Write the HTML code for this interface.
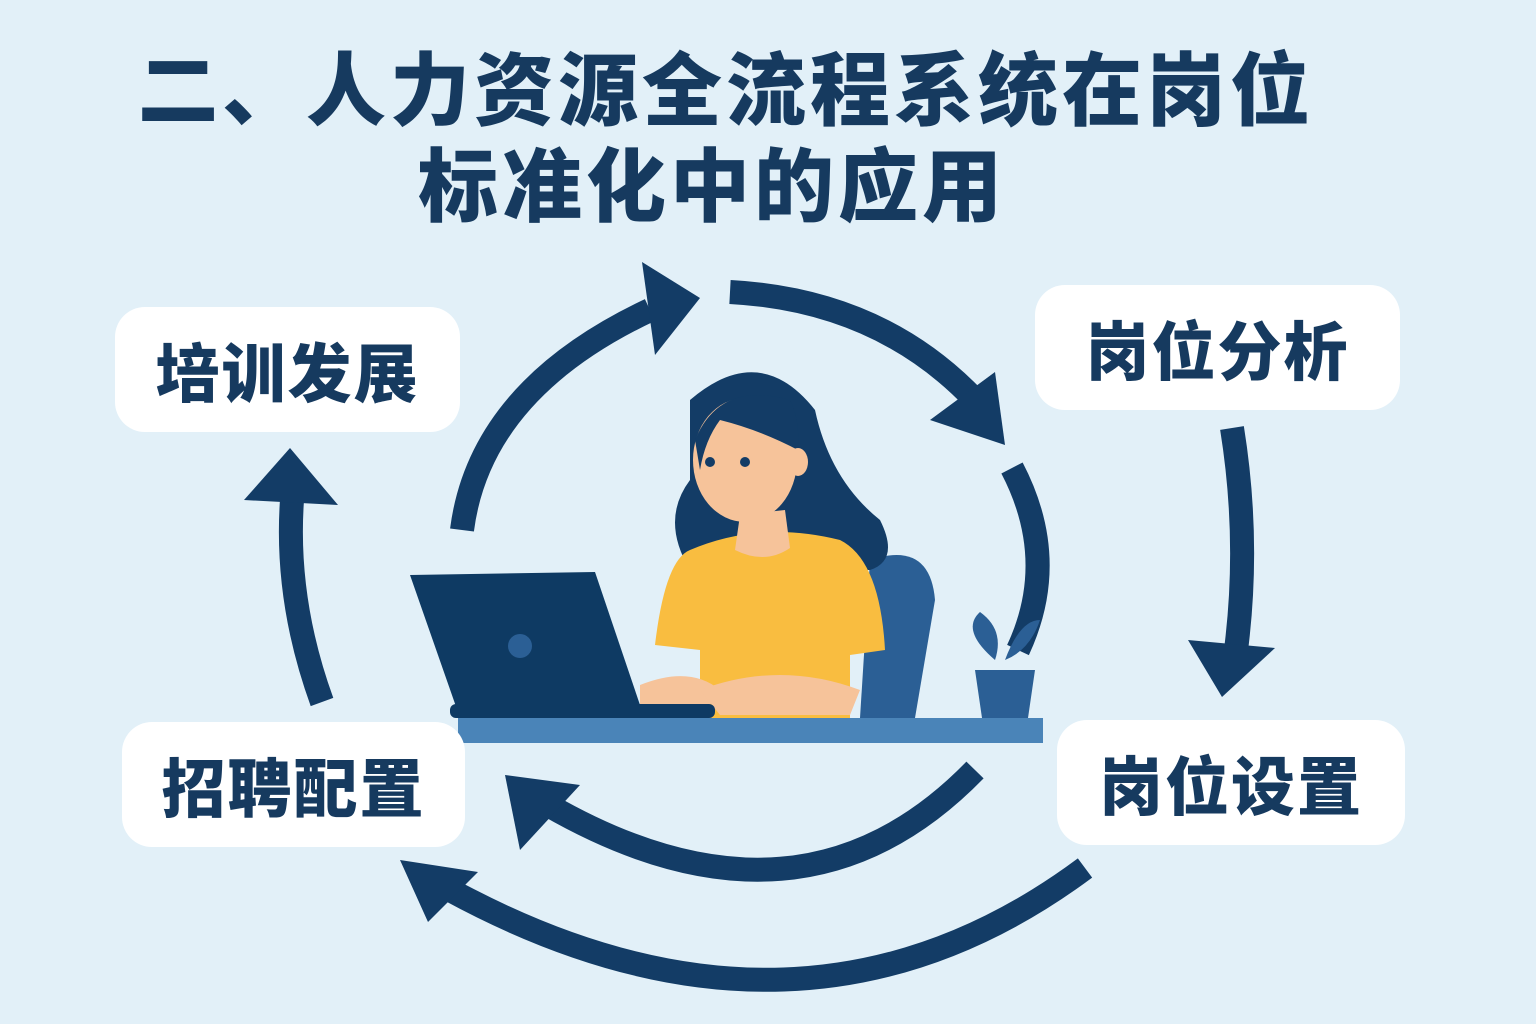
<!DOCTYPE html>
<html><head><meta charset="utf-8"><style>
html,body{margin:0;padding:0}
body{width:1536px;height:1024px;background:#e2f0f8;position:relative;overflow:hidden;font-family:"Liberation Sans","Noto Sans CJK SC",sans-serif}
.t{position:absolute;color:#163a5f;font-weight:900;font-size:80px;letter-spacing:4px;white-space:nowrap;line-height:1}
.box{position:absolute;background:#fff;border-radius:30px;display:flex;align-items:center;justify-content:center;color:#163a5f;font-weight:900;font-size:64px;letter-spacing:2px}
svg{position:absolute;left:0;top:0}
</style></head><body>
<svg width="1536" height="1024" viewBox="0 0 1536 1024">
<g fill="none" stroke="#133c66" stroke-width="24">
<path d="M462 530 Q480 390 650 310"/>
<path d="M730 292 Q880 300 975 400"/>
<path d="M1012 468 Q1060 560 1018 650"/>
<path d="M1232 428 Q1250 540 1236 650"/>
<path d="M322 702 Q285 600 292 500"/>
<path d="M975 770 Q800 950 548 805"/>
<path d="M1085 868 Q800 1080 450 890"/>
</g>
<g fill="#133c66">
<polygon points="700,298 642,262 655,355"/>
<polygon points="1005,445 930,420 995,372"/>
<polygon points="1222,697 1188,640 1275,648"/>
<polygon points="290,448 244,500 338,505"/>
<polygon points="505,775 520,850 580,785"/>
<polygon points="400,860 428,922 478,872"/>
</g>
<path d="M870 560 Q930 540 935 600 L915 718 L860 718 Z" fill="#2b5f95"/>
<path d="M690 400 Q760 340 815 410 Q830 480 880 520 Q900 560 870 570 L690 570 Q660 520 690 480 Z" fill="#133c66"/>
<path d="M690 550 Q760 520 840 540 Q880 560 885 650 L850 655 L850 718 L700 718 L700 650 L655 645 Q665 560 690 550 Z" fill="#f9bd40"/>
<path d="M740 515 L735 550 Q765 565 790 548 L785 510 Z" fill="#f6c39a"/>
<ellipse cx="745" cy="460" rx="52" ry="62" fill="#f6c39a"/>
<path d="M695 440 Q720 380 790 400 Q800 420 798 450 Q760 430 720 420 Q705 440 700 470 Z" fill="#133c66"/>
<circle cx="710" cy="462" r="5" fill="#133c66"/><circle cx="745" cy="462" r="5" fill="#133c66"/>
<ellipse cx="798" cy="462" rx="10" ry="14" fill="#f6c39a"/>
<path d="M640 685 Q690 665 720 690 L710 705 L640 705 Z" fill="#f6c39a"/>
<path d="M700 690 Q780 660 860 690 L850 715 L720 715 Z" fill="#f6c39a"/>
<path d="M410 575 L595 572 L640 705 L460 718 Z" fill="#0e3a63"/>
<circle cx="520" cy="646" r="12" fill="#2b5f95"/>
<rect x="450" y="704" width="265" height="14" rx="6" fill="#0e3a63"/>
<rect x="458" y="718" width="585" height="25" fill="#4a84b8"/>
<path d="M995 660 Q960 630 980 612 Q1005 630 995 660Z" fill="#2b5f95"/>
<path d="M1005 660 Q1020 620 1040 620 Q1030 650 1005 660Z" fill="#2b5f95"/>
<path d="M975 670 L1035 670 L1028 718 L982 718 Z" fill="#2b5f95"/>
</svg>
<div class="t" style="left:138px;top:52px">二、人力资源全流程系统在岗位</div>
<div class="t" style="left:418px;top:148px">标准化中的应用</div>
<div class="box" style="left:115px;top:307px;width:345px;height:125px">培训发展</div>
<div class="box" style="left:1035px;top:285px;width:365px;height:125px">岗位分析</div>
<div class="box" style="left:122px;top:722px;width:343px;height:125px">招聘配置</div>
<div class="box" style="left:1057px;top:720px;width:348px;height:125px">岗位设置</div>
</body></html>
